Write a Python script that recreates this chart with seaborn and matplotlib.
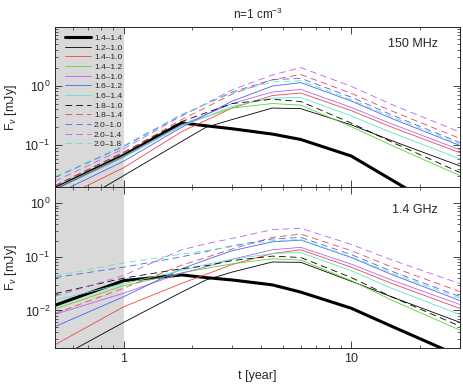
import numpy as np
import pandas as pd
import matplotlib
matplotlib.use("Agg")
import matplotlib.pyplot as plt
import matplotlib.ticker as mticker
import seaborn as sns

t_years = [0.5, 1.0, 1.8, 2.3, 3.0, 4.5, 6.0, 10.0, 15.0, 30.0]

labels = ["1.4–1.4", "1.2–1.0", "1.4–1.0", "1.4–1.2", "1.6–1.0", "1.6–1.2",
          "1.6–1.4", "1.8–1.0", "1.8–1.4", "2.0–1.0", "2.0–1.4", "2.0–1.8"]

# 150 MHz flux density [mJy]
f150_a = [0.019, 0.068, 0.237, 0.212, 0.189, 0.154, 0.125, 0.066, 0.0265, 0.0056]
f150_b = [0.0065, 0.031, 0.116, 0.20, 0.27, 0.42, 0.41, 0.22, 0.12, 0.045]
f150_c = [0.0115, 0.042, 0.169, 0.262, 0.42, 0.68, 0.75, 0.38, 0.202, 0.075]
f150_d = [0.019, 0.066, 0.22, 0.30, 0.42, 0.50, 0.47, 0.205, 0.10, 0.031]
f150_e = [0.019, 0.065, 0.22, 0.326, 0.50, 0.78, 0.86, 0.43, 0.229, 0.084]
f150_f = [0.015, 0.054, 0.20, 0.325, 0.55, 0.98, 1.12, 0.55, 0.282, 0.099]
f150_g = [0.018, 0.062, 0.21, 0.30, 0.45, 0.62, 0.63, 0.31, 0.164, 0.059]
f150_h = [0.021, 0.076, 0.25, 0.35, 0.50, 0.59, 0.54, 0.235, 0.114, 0.035]
f150_i = [0.021, 0.075, 0.27, 0.43, 0.72, 1.25, 1.53, 0.74, 0.377, 0.13]
f150_j = [0.029, 0.095, 0.32, 0.49, 0.78, 1.25, 1.32, 0.64, 0.323, 0.111]
f150_k = [0.025, 0.087, 0.31, 0.50, 0.85, 1.50, 2.00, 0.97, 0.485, 0.166]
f150_l = [0.030, 0.099, 0.33, 0.49, 0.75, 1.15, 1.20, 0.58, 0.30, 0.105]

# 1.4 GHz flux density [mJy]
f14_a = [0.0125, 0.036, 0.046, 0.041, 0.037, 0.030, 0.022, 0.011, 0.0051, 0.0014]
f14_b = [0.0012, 0.006, 0.022, 0.037, 0.052, 0.080, 0.079, 0.035, 0.018, 0.006]
f14_c = [0.0023, 0.0117, 0.032, 0.047, 0.072, 0.115, 0.135, 0.064, 0.032, 0.0109]
f14_d = [0.0107, 0.029, 0.050, 0.061, 0.074, 0.092, 0.087, 0.036, 0.0157, 0.0043]
f14_e = [0.0085, 0.021, 0.050, 0.065, 0.090, 0.135, 0.150, 0.073, 0.037, 0.0129]
f14_f = [0.005, 0.018, 0.060, 0.088, 0.130, 0.190, 0.205, 0.097, 0.047, 0.0153]
f14_g = [0.0155, 0.0316, 0.056, 0.072, 0.090, 0.115, 0.120, 0.055, 0.026, 0.0084]
f14_h = [0.0206, 0.040, 0.060, 0.068, 0.085, 0.103, 0.097, 0.041, 0.018, 0.0051]
f14_i = [0.0088, 0.026, 0.070, 0.097, 0.140, 0.230, 0.265, 0.130, 0.065, 0.0225]
f14_j = [0.041, 0.064, 0.100, 0.125, 0.160, 0.215, 0.230, 0.110, 0.054, 0.0182]
f14_k = [0.0184, 0.045, 0.135, 0.175, 0.220, 0.320, 0.340, 0.170, 0.088, 0.0316]
f14_l = [0.044, 0.077, 0.112, 0.130, 0.155, 0.200, 0.210, 0.100, 0.050, 0.017]

f150 = [f150_a, f150_b, f150_c, f150_d, f150_e, f150_f,
        f150_g, f150_h, f150_i, f150_j, f150_k, f150_l]
f14 = [f14_a, f14_b, f14_c, f14_d, f14_e, f14_f,
       f14_g, f14_h, f14_i, f14_j, f14_k, f14_l]

RED, GREEN, VIOLET, BLUE, CYAN = "#f04646", "#5ad232", "#b464f0", "#4b64f0", "#5ae6c8"
colors = ["black", "black", RED, GREEN, VIOLET, BLUE, CYAN,
          "black", RED, BLUE, VIOLET, CYAN]
widths = [2.2] + [0.6] * 11
styles = ["-"] * 7 + ["--"] * 5
DASH = [8, 5]   # scaled by the 0.6 linewidth

sns.set_style("ticks")
plt.rcParams["font.family"] = ["Liberation Sans", "DejaVu Sans"]
plt.rcParams["mathtext.fontset"] = "custom"
plt.rcParams["mathtext.rm"] = "Liberation Sans"
plt.rcParams["mathtext.it"] = "Liberation Sans:italic"
plt.rcParams["axes.linewidth"] = 0.7

fig = plt.figure(figsize=(4.63, 3.88), dpi=100)
ax1 = fig.add_axes([0.1188, 0.518, 0.8747, 0.412])
ax2 = fig.add_axes([0.1188, 0.1031, 0.8747, 0.415])

for ax, data in [(ax1, f150), (ax2, f14)]:
    ax.axvspan(0.5, 1.0, color="#d9d9d9", lw=0, zorder=0)
    for lab, vals, c, w, s in zip(labels, data, colors, widths, styles):
        df = pd.DataFrame({"t": t_years, "F": vals})
        sns.lineplot(data=df, x="t", y="F", ax=ax, color=c, linewidth=w,
                     label=lab if ax is ax1 else None, legend=False)
        if s == "--":
            ax.get_lines()[-1].set_dashes(DASH)
    ax.set_xscale("log")
    ax.set_yscale("log")
    ax.set_xlim(0.5, 30)
    ax.tick_params(which="both", direction="in", top=True, right=True, labelsize=9)
    ax.tick_params(which="major", length=5, width=0.6)
    ax.tick_params(which="minor", length=2.5, width=0.5)
    ax.yaxis.set_major_formatter(mticker.LogFormatterMathtext())
    ax.yaxis.set_minor_locator(mticker.LogLocator(base=10, subs=np.arange(2, 10)))
    ax.yaxis.set_minor_formatter(mticker.NullFormatter())
    ax.set_ylabel(r"F$_\nu$ [mJy]", fontsize=9)
    ax.xaxis.set_major_locator(mticker.FixedLocator([1, 10]))
    ax.xaxis.set_minor_locator(mticker.LogLocator(base=10, subs=np.arange(2, 10)))
    ax.xaxis.set_minor_formatter(mticker.NullFormatter())

ax1.set_ylim(0.02, 9.5)
ax2.set_ylim(0.002, 2)
ax1.set_xlabel("")
ax1.set_xticklabels([])
ax2.xaxis.set_major_formatter(mticker.FuncFormatter(lambda v, p: f"{v:g}"))
ax2.set_xlabel("t [year]", fontsize=9)

ax1.text(0.946, 0.894, "150 MHz", transform=ax1.transAxes, ha="right", va="center", fontsize=9)
ax2.text(0.946, 0.857, "1.4 GHz", transform=ax2.transAxes, ha="right", va="center", fontsize=9)
fig.text(0.557, 0.962, r"n=1 cm$^{-3}$", ha="center", va="center", fontsize=8.5)

handles, labs = ax1.get_legend_handles_labels()
leg = ax1.legend(handles, labs, loc="upper left", bbox_to_anchor=(0.017, 0.975),
                 borderaxespad=0, fontsize=6, handlelength=3.2, handletextpad=0.3,
                 labelspacing=0.22, borderpad=0.35, fancybox=False, framealpha=0)
leg.get_frame().set_edgecolor("black")
leg.get_frame().set_linewidth(0.7)
for h, s in zip(leg.get_lines(), styles):
    if s == "--":
        h.set_dashes(DASH)

fig.savefig("out.png", dpi=100)
